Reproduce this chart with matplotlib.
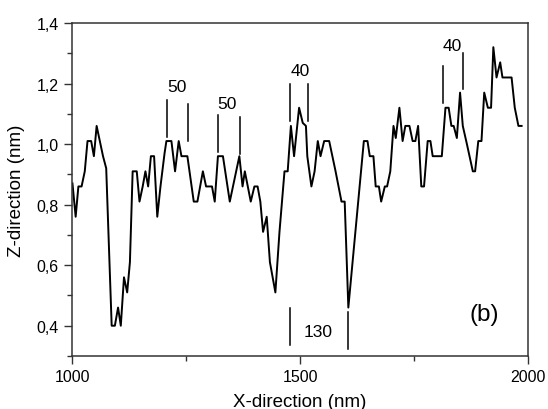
import matplotlib
matplotlib.use("Agg")
import matplotlib.pyplot as plt
from matplotlib.ticker import MultipleLocator, FuncFormatter

plt.rcParams['font.family'] = ['Liberation Sans', 'DejaVu Sans']

# profil wysokości
x_nm = [1001, 1008, 1014, 1021, 1028, 1034, 1042, 1048, 1054, 1061, 1068, 1075,
        1087, 1094, 1101, 1107, 1114, 1121, 1127, 1133, 1142, 1148, 1155, 1161,
        1167, 1173, 1180, 1187, 1194, 1203, 1207, 1218, 1226, 1234, 1240, 1253,
        1267, 1275, 1287, 1294, 1307, 1313, 1320, 1331, 1341, 1346, 1367, 1374,
        1379, 1392, 1400, 1407, 1413, 1419, 1427, 1434, 1446, 1455, 1466, 1473,
        1480, 1487, 1498, 1506, 1513, 1516, 1525, 1532, 1539, 1545, 1553, 1564,
        1578, 1591, 1598, 1606, 1640, 1648, 1653, 1661, 1666, 1673, 1678, 1686,
        1691, 1698, 1705, 1710, 1718, 1725, 1731, 1740, 1747, 1753, 1759, 1766,
        1772, 1780, 1786, 1791, 1811, 1819, 1826, 1832, 1837, 1844, 1851, 1857,
        1866, 1879, 1884, 1891, 1898, 1904, 1912, 1919, 1924, 1931, 1939, 1944,
        1964, 1971, 1979, 1986]
z_nm = [0.87, 0.76, 0.86, 0.86, 0.91, 1.01, 1.01, 0.96, 1.06, 1.01, 0.96, 0.92,
        0.40, 0.40, 0.46, 0.40, 0.56, 0.51, 0.61, 0.91, 0.91, 0.81, 0.86, 0.91,
        0.86, 0.96, 0.96, 0.76, 0.86, 0.97, 1.01, 1.01, 0.91, 1.01, 0.96, 0.96,
        0.81, 0.81, 0.91, 0.86, 0.86, 0.81, 0.96, 0.96, 0.86, 0.81, 0.96, 0.86,
        0.91, 0.81, 0.86, 0.86, 0.81, 0.71, 0.76, 0.61, 0.51, 0.71, 0.91, 0.91,
        1.06, 0.96, 1.12, 1.07, 1.06, 0.96, 0.86, 0.91, 1.01, 0.96, 1.01, 1.01,
        0.91, 0.81, 0.81, 0.46, 1.01, 1.01, 0.96, 0.96, 0.86, 0.86, 0.81, 0.86,
        0.86, 0.91, 1.06, 1.02, 1.12, 1.01, 1.06, 1.06, 1.01, 1.01, 1.06, 0.86,
        0.86, 1.01, 1.01, 0.96, 0.96, 1.12, 1.12, 1.06, 1.06, 1.02, 1.17, 1.06,
        1.00, 0.91, 0.91, 1.01, 1.01, 1.17, 1.12, 1.12, 1.32, 1.22, 1.27, 1.22,
        1.22, 1.12, 1.06, 1.06]

# znaczniki szerokości: (x, y_dol, y_gora)
znaczniki = [
    (1208, 1.024, 1.146), (1255, 1.011, 1.133),
    (1320, 0.974, 1.096), (1368, 0.968, 1.090),
    (1478, 1.077, 1.199), (1518, 1.077, 1.199),
    (1814, 1.136, 1.258), (1857, 1.182, 1.301),
    (1477, 0.335, 0.458), (1606, 0.324, 0.445),
]
etykiety = [("50", 1231, 1.189), ("50", 1339, 1.133), ("40", 1501, 1.242),
            ("40", 1833, 1.325), ("130", 1540, 0.381)]

fig = plt.figure(figsize=(5.48, 4.10), dpi=100)
ax = fig.add_axes([0.1314, 0.1293, 0.8321, 0.8122])

ax.plot(x_nm, z_nm, color='black', lw=1.4)

for xm, y0, y1 in znaczniki:
    ax.plot([xm, xm], [y0, y1], color='black', lw=1.1)
for txt, xt, yt in etykiety:
    ax.text(xt, yt, txt, ha='center', va='center', fontsize=12.5)
ax.text(1905, 0.44, "(b)", ha='center', va='center', fontsize=17.5)

ax.set_xlim(1000, 2000)
ax.set_ylim(0.3, 1.4)
ax.xaxis.set_major_locator(MultipleLocator(500))
ax.xaxis.set_minor_locator(MultipleLocator(250))
ax.yaxis.set_minor_locator(MultipleLocator(0.1))
ax.set_yticks([0.4, 0.6, 0.8, 1.0, 1.2, 1.4])
ax.yaxis.set_major_formatter(FuncFormatter(lambda v, p: f"{v:.1f}".replace('.', ',')))
ax.tick_params(which='major', direction='out', length=6, width=1, labelsize=11.5, colors='#333333', labelcolor='black')
ax.tick_params(which='minor', direction='out', length=3.5, width=1, colors='#333333')
ax.tick_params(top=False, right=False, which='both')
for s in ax.spines.values():
    s.set_color('#333333')
    s.set_linewidth(1.1)

ax.set_xlabel("X-direction (nm)", fontsize=13.5, labelpad=6)
ax.set_ylabel("Z-direction (nm)", fontsize=13.5, labelpad=8)

fig.savefig("out.png", dpi=100)
